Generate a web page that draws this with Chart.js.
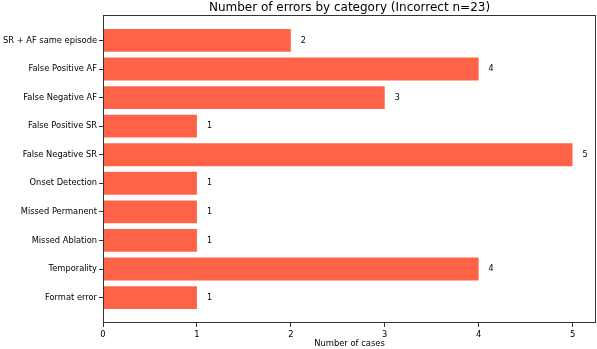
<!DOCTYPE html>
<html>
<head>
<meta charset="utf-8">
<script src="https://cdn.jsdelivr.net/npm/chart.js@4"></script>
<style>
  html, body { margin: 0; padding: 0; background: #fff; }
  #wrap { width: 597px; height: 349px; }
</style>
</head>
<body>
<div id="wrap"><canvas id="errosChart" width="597" height="349"></canvas></div>
<script>
// Dados do gráfico (de cima para baixo)
const categorias = [
    'SR + AF same episode',
    'False Positive AF',
    'False Negative AF',
    'False Positive SR',
    'False Negative SR',
    'Onset Detection',
    'Missed Permanent',
    'Missed Ablation',
    'Temporality',
    'Format error'
];
const casos = [2, 4, 3, 1, 5, 1, 1, 1, 4, 1];
const ticksX = [0, 1, 2, 3, 4, 5];

const fonte = 'DejaVu Sans';
const corBarra = '#FF6347';
const corEixo = '#333';

// Título + moldura + rótulos de valor
const extras = {
    id: 'extras',
    afterDatasetsDraw(chart) {
        const { ctx, chartArea, scales } = chart;
        ctx.save();
        // valores ao lado das barras
        ctx.fillStyle = '#000';
        ctx.font = `8px "${fonte}"`;
        ctx.textBaseline = 'middle';
        ctx.textAlign = 'left';
        casos.forEach((v, i) => {
            const x = scales.x.getPixelForValue(v) + 10;
            const y = scales.y.getPixelForValue(i);
            ctx.fillText(String(v), x, y);
        });
        // moldura
        ctx.strokeStyle = corEixo;
        ctx.lineWidth = 1;
        ctx.strokeRect(chartArea.left + 0.5, chartArea.top + 0.5,
            chartArea.right - chartArea.left - 1, chartArea.bottom - chartArea.top - 1);
        // título
        ctx.font = `12px "${fonte}"`;
        ctx.textAlign = 'center';
        ctx.textBaseline = 'alphabetic';
        ctx.fillText('Number of errors by category (Incorrect n=23)',
            (chartArea.left + chartArea.right) / 2, 11);
        ctx.restore();
    }
};

const ctx = document.getElementById('errosChart').getContext('2d');
new Chart(ctx, {
    type: 'bar',
    data: {
        datasets: [{
            data: casos.map((v, i) => ({ x: v, y: i })),
            backgroundColor: corBarra,
            borderWidth: 0,
            barPercentage: 0.8,
            categoryPercentage: 1.0
        }]
    },
    options: {
        indexAxis: 'y',
        responsive: false,
        animation: false,
        layout: { padding: { left: 0, right: 1, top: 15, bottom: 0 } },
        plugins: {
            legend: { display: false },
            tooltip: { enabled: false },
            title: { display: false }
        },
        scales: {
            x: {
                type: 'linear',
                min: 0,
                max: 5.25,
                offset: false,
                afterBuildTicks: (axis) => { axis.ticks = ticksX.map(v => ({ value: v })); },
                afterFit: (axis) => { axis.height = 26; },
                grid: { display: true, drawOnChartArea: false, offset: false, color: corEixo, tickLength: 4 },
                border: { display: false },
                ticks: { color: '#000', font: { family: fonte, size: 8.3 }, padding: 3, maxRotation: 0 },
                title: {
                    display: true,
                    text: 'Number of cases',
                    color: '#000',
                    font: { family: fonte, size: 8.4 },
                    padding: { top: 0, bottom: 0 }
                }
            },
            y: {
                type: 'linear',
                reverse: true,
                min: -0.89,
                max: 9.89,
                offset: false,
                afterBuildTicks: (axis) => { axis.ticks = categorias.map((_, i) => ({ value: i })); },
                afterFit: (axis) => { axis.width = 103; },
                grid: { display: true, drawOnChartArea: false, offset: false, color: corEixo, tickLength: 4 },
                border: { display: false },
                ticks: {
                    color: '#000',
                    font: { family: fonte, size: 8.3 },
                    padding: 2,
                    callback: (v) => categorias[v] ?? ''
                }
            }
        }
    },
    plugins: [extras]
});
</script>
</body>
</html>
